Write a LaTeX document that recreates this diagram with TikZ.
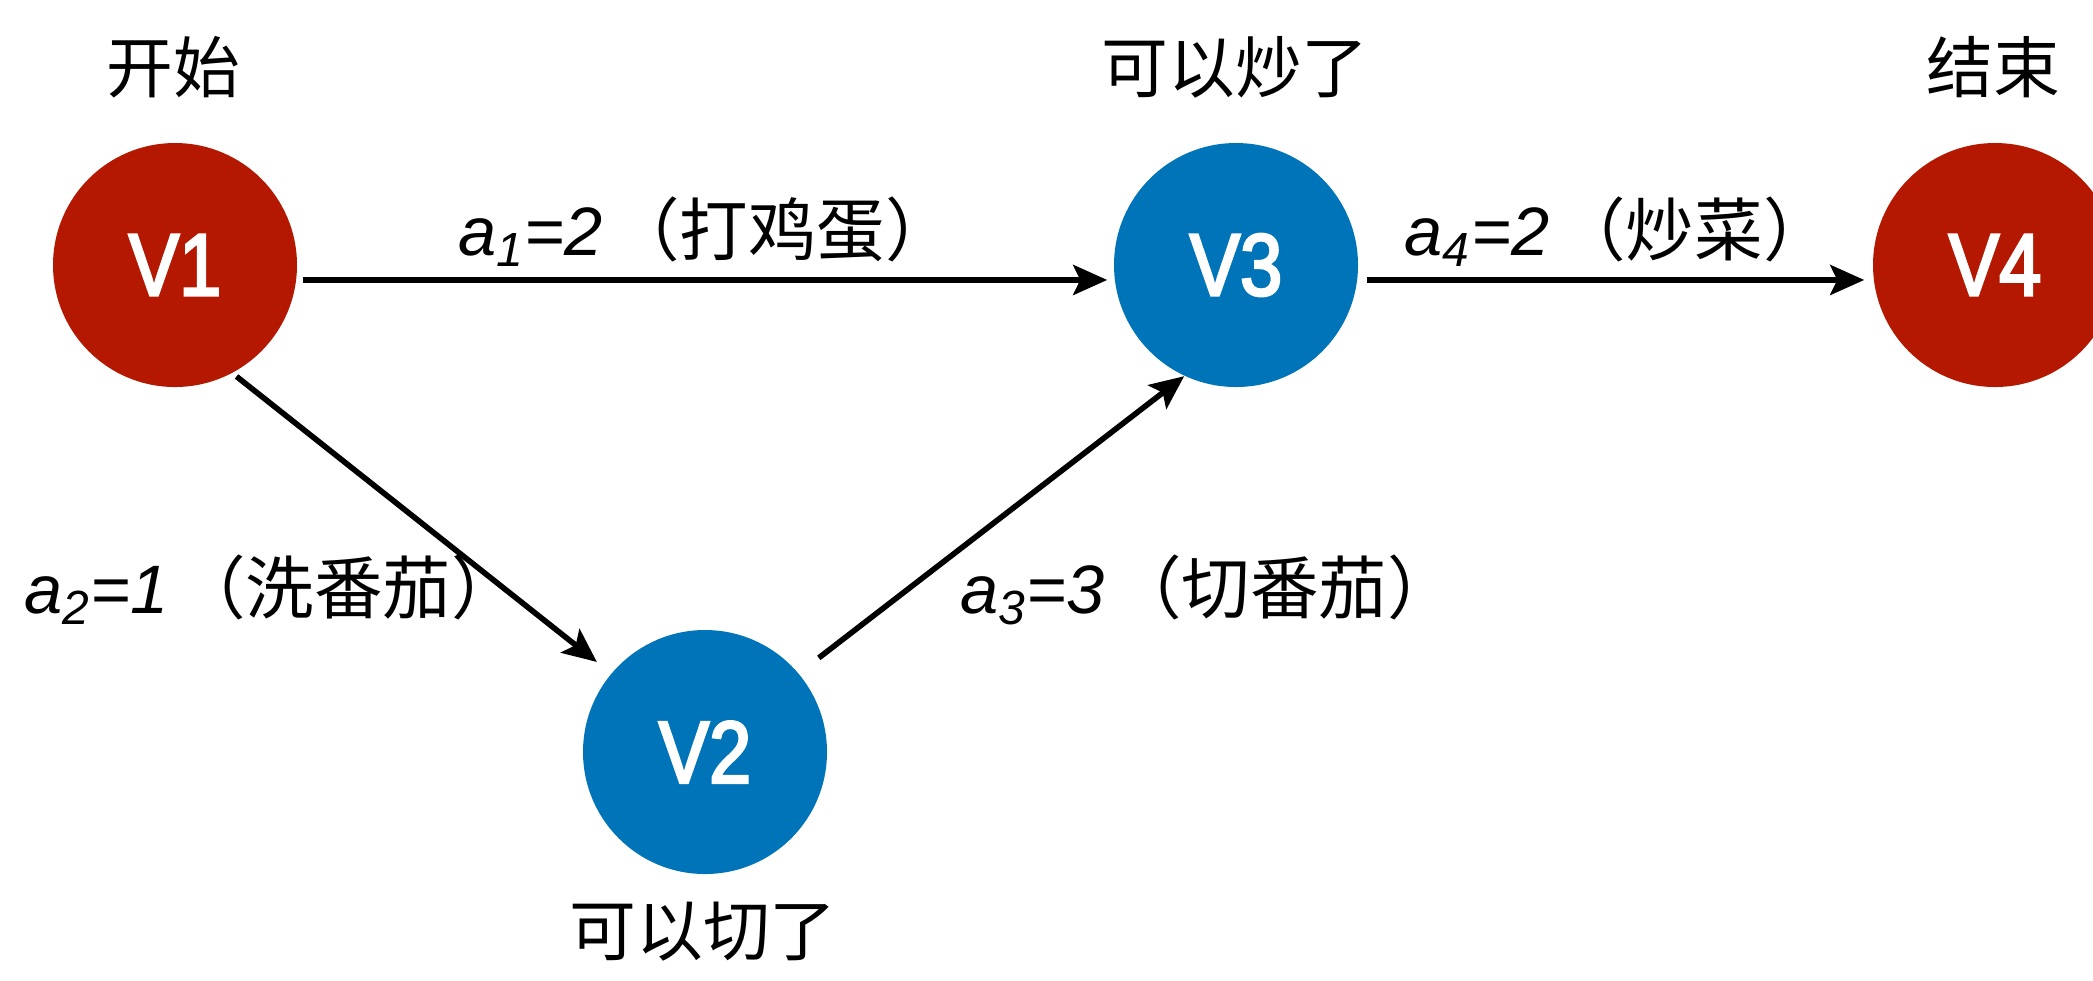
\documentclass[tikz,border=0pt]{standalone}
\usepackage{fontspec}
\setmainfont{Liberation Sans}
\newfontfamily\cjk{Noto Sans CJK SC}
\newfontfamily\vfont[FakeStretch=0.86,FakeBold=3]{Liberation Sans}
\usepackage{tikz}
\usetikzlibrary{arrows.meta}
\definecolor{vred}{RGB}{181,24,0}
\definecolor{vblue}{RGB}{0,116,184}
\pgfdeclarelayer{edgelayer}
\pgfdeclarelayer{nodelayer}
\pgfsetlayers{edgelayer,nodelayer,main}
\tikzset{
	endvertex/.style={circle, fill=vred, minimum size=2.44cm, inner sep=0pt, text=white, font=\vfont\fontsize{25}{28}\selectfont},
	midvertex/.style={endvertex, fill=vblue},
	caption/.style={font=\cjk\fontsize{19}{22}\selectfont},
	weight/.style={font=\fontsize{19.5}{22}\selectfont},
	arc/.style={line width=1.6pt, -{Stealth[length=0.34cm,width=0.3cm,inset=0.07cm]}}
}
\newcommand{\act}[3]{\textit{a\textsubscript{#1}=#2}\hspace{0.12em}{\cjk（#3）}}

\begin{document}
\begin{tikzpicture}
	\useasboundingbox (0,0) rectangle (20.93,-9.80);
	\begin{pgfonlayer}{nodelayer}
		\node [style=endvertex] (1) at (1.75, -2.65) {V1};
		\node [style=midvertex] (2) at (7.05, -7.52) {V2};
		\node [style=midvertex] (3) at (12.36, -2.65) {V3};
		\node [style=endvertex] (4) at (19.95, -2.65) {V4};
		\node [style=caption] (5) at (1.73, -0.67) {开始};
		\node [style=caption] (6) at (7.03, -9.32) {可以切了};
		\node [style=caption] (7) at (12.35, -0.67) {可以炒了};
		\node [style=caption] (8) at (19.93, -0.67) {结束};
		\node [style=weight] (9) at (7.06, -2.32) {\act{1}{2}{打鸡蛋}};
		\node [style=weight] (10) at (2.72, -5.90) {\act{2}{1}{洗番茄}};
		\node [style=weight] (11) at (12.08, -5.90) {\act{3}{3}{切番茄}};
		\node [style=weight] (12) at (16.18, -2.32) {\act{4}{2}{炒菜}};
	\end{pgfonlayer}
	\begin{pgfonlayer}{edgelayer}
		\draw [style=arc, shorten <=0.06cm, shorten >=0.07cm] (1.-7) to (3.187);
		\draw [style=arc, shorten <=0.05cm, shorten >=0.18cm] (1.-62) to (2.140);
		\draw [style=arc, shorten <=0.25cm] (2.40) to (3.-115);
		\draw [style=arc, shorten <=0.09cm, shorten >=0.09cm] (3.-7) to (4.187);
	\end{pgfonlayer}
\end{tikzpicture}
\end{document}
